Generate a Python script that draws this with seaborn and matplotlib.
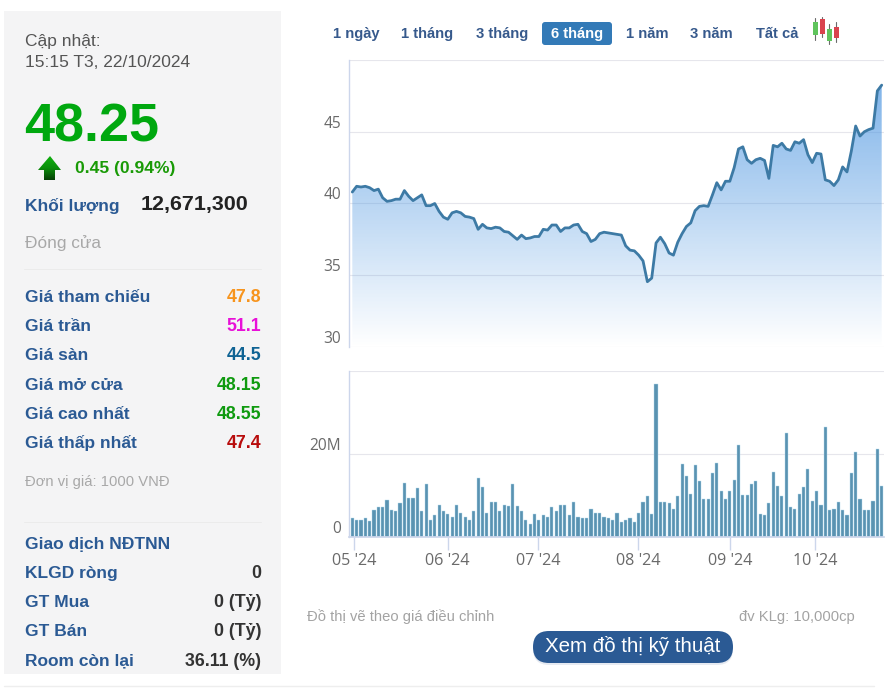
"""Stock quote panel: price area chart, volume bars and the info column."""

import matplotlib.pyplot as plt
import numpy as np
import pandas as pd
import seaborn as sns
from matplotlib.colors import LinearSegmentedColormap
from matplotlib.patches import FancyBboxPatch, Polygon, Rectangle

WIDTH, HEIGHT = 892, 691

price = [
    40.8, 41.2, 41.15, 41.2, 41.1, 40.9, 41.0, 40.4, 40.15, 40.2,
    40.3, 40.3, 40.9, 40.5, 40.2, 40.4, 40.6, 39.85, 39.85, 40.0,
    39.45, 39.05, 38.9, 39.35, 39.45, 39.35, 39.1, 39.05, 38.95, 38.2,
    38.55, 38.3, 38.25, 38.35, 38.3, 38.05, 38.0, 37.75, 37.5, 37.8,
    37.55, 37.6, 37.7, 37.7, 38.2, 38.15, 38.5, 38.5, 38.05, 38.3,
    38.3, 38.5, 38.55, 38.05, 37.9, 37.35, 37.5, 37.9, 38.0, 37.95,
    37.9, 37.85, 37.8, 37.05, 36.75, 36.7, 36.4, 36.0, 34.55, 34.8,
    37.25, 37.65, 37.2, 36.55, 36.4, 37.3, 37.9, 38.4, 38.65, 39.5,
    39.8, 39.85, 39.8, 40.6, 41.45, 40.95, 41.55, 41.55, 42.5, 43.8,
    43.95, 43.05, 42.8, 43.05, 43.15, 43.0, 41.75, 44.05, 43.95, 44.2,
    43.8, 43.7, 44.3, 44.2, 44.45, 43.4, 42.85, 43.5, 43.45, 41.65,
    41.55, 41.25, 41.65, 42.55, 42.2, 43.65, 45.4, 44.7, 45.0, 45.15,
    45.25, 47.85, 48.25,
]

volume = [
    4.6, 4.2, 4.2, 4.6, 3.9, 6.6, 7.2, 7.2, 8.9, 6.6,
    6.2, 8.2, 13.0, 9.4, 9.4, 11.8, 6.2, 12.7, 4.2, 5.3,
    7.8, 6.2, 5.6, 4.9, 7.8, 5.9, 4.9, 4.2, 6.2, 14.3,
    12.1, 5.9, 8.5, 8.5, 6.2, 7.8, 7.5, 12.7, 7.5, 6.2,
    4.2, 3.3, 5.6, 4.2, 5.3, 4.9, 7.2, 6.2, 7.8, 7.8,
    5.3, 8.5, 4.9, 4.6, 4.6, 6.9, 5.9, 5.9, 4.9, 4.6,
    4.2, 5.9, 3.6, 4.2, 4.6, 3.6, 5.9, 8.5, 9.8, 5.6,
    36.7, 8.5, 8.5, 8.2, 6.9, 9.8, 17.6, 14.6, 10.5, 17.3,
    13.4, 9.1, 9.1, 15.4, 17.9, 11.1, 9.1, 11.1, 13.7, 22.1,
    10.2, 10.2, 12.7, 13.4, 5.6, 5.3, 8.2, 15.7, 12.4, 9.8,
    25.0, 7.2, 6.9, 10.5, 12.1, 16.3, 8.8, 11.1, 7.8, 26.6,
    6.6, 6.9, 8.5, 6.6, 5.3, 15.4, 20.5, 9.1, 6.6, 6.6,
    8.8, 21.1, 12.4,
]

month_positions = [0.46, 21.99, 42.87, 65.84, 86.98, 106.7]
month_labels = ["05 '24", "06 '24", "07 '24", "08 '24", "09 '24", "10 '24"]
price_ticks = [30, 35, 40, 45, 50]
price_tick_labels = ["30", "35", "40", "45", ""]
volume_ticks = [0, 20, 40]
volume_tick_labels = ["0", "20M", ""]

range_buttons = ["1 ngày", "1 tháng", "3 tháng", "6 tháng", "1 năm", "3 năm", "Tất cả"]
price_rows = ["Giá tham chiếu", "Giá trần", "Giá sàn", "Giá mở cửa", "Giá cao nhất", "Giá thấp nhất"]
price_row_values = ["47.8", "51.1", "44.5", "48.15", "48.55", "47.4"]
price_row_colors = ["#f7941d", "#e810d8", "#0f6394", "#0f9a0f", "#0f9a0f", "#b80c0c"]
foreign_rows = ["Giao dịch NĐTNN", "KLGD ròng", "GT Mua", "GT Bán", "Room còn lại"]
foreign_values = ["", "0", "0 (Tỷ)", "0 (Tỷ)", "36.11 (%)"]

BLUE = "#2b5a94"
GRID = "#e6e6ec"
AXIS = "#ccd6eb"
TICK_TEXT = "#6a6a6a"
CHART_FONT = "Open Sans"


def px_axes(fig, left, top, right, bottom):
    """Add axes placed by pixel edges measured from the top left corner."""
    return fig.add_axes([
        left / WIDTH,
        1 - bottom / HEIGHT,
        (right - left) / WIDTH,
        (bottom - top) / HEIGHT,
    ])


def label(ax, x, y, text, size, color="#333333", weight="normal", ha="left", family="Liberation Sans"):
    """Write text at pixel position, size given in pixels."""
    ax.text(x, y, text, fontsize=size * 0.72, color=color, fontweight=weight,
            ha=ha, va="center", family=family)


def style_axes(ax, xlim):
    ax.set_xlim(*xlim)
    ax.set_facecolor("none")
    ax.grid(axis="y", color=GRID, linewidth=0.8)
    ax.grid(axis="x", visible=False)
    ax.set_axisbelow(True)
    ax.set_xlabel("")
    ax.set_ylabel("")
    for side in ("top", "right", "bottom"):
        ax.spines[side].set_visible(False)
    ax.spines["left"].set_color(AXIS)
    ax.spines["left"].set_linewidth(1)


sns.set_theme(style="white")
plt.rcParams["font.family"] = ["Liberation Sans", "DejaVu Sans"]

fig = plt.figure(figsize=(WIDTH / 100, HEIGHT / 100), dpi=100)

# page layer, pixel coordinates
page = fig.add_axes([0, 0, 1, 1])
page.set_xlim(0, WIDTH)
page.set_ylim(HEIGHT, 0)
page.axis("off")

page.add_patch(Rectangle((4, 11), 277, 663, color="#f4f4f5", linewidth=0))
page.plot([4, 874], [685.5, 685.5], color="#eeeeee", linewidth=1)
page.plot([24, 261], [268.5, 268.5], color="#ebebeb", linewidth=0.7)
page.plot([24, 261], [521.5, 521.5], color="#ebebeb", linewidth=0.7)

label(page, 25, 41, "Cập nhật:", 17.4, "#555555")
label(page, 25, 62.5, "15:15 T3, 22/10/2024", 17.4, "#555555")
label(page, 24, 127, "48.25", 54, "#00a80f", "bold")
label(page, 75, 168, "0.45 (0.94%)", 17.5, "#199a06", "bold")
label(page, 25, 205.5, "Khối lượng", 17.4, BLUE, "bold")
label(page, 141, 204, "12,671,300", 21.5, "#222222", "bold")
label(page, 25, 243.5, "Đóng cửa", 17.2, "#a8a8a8")
label(page, 25, 482, "Đơn vị giá: 1000 VNĐ", 14.7, "#a8a8a8")

# up arrow icon with a vertical gradient
arrow = Polygon([(38, 170), (50, 156), (61, 170), (55, 170), (55, 180), (44, 180), (44, 170)],
                closed=True, transform=page.transData, facecolor="none", edgecolor="none")
page.add_patch(arrow)
arrow_cmap = LinearSegmentedColormap.from_list("arrow", ["#10b010", "#0a8f0a", "#063f06"])
arrow_img = page.imshow(np.linspace(0, 1, 40)[:, None], cmap=arrow_cmap, aspect="auto",
                        extent=(38, 61, 180, 156), origin="upper", zorder=3)
arrow_img.set_clip_path(arrow)

for y, name, value, color in zip([297, 326, 355, 385, 414, 443], price_rows, price_row_values, price_row_colors):
    label(page, 25, y, name, 17.4, BLUE, "bold")
    label(page, 261, y, value, 17.8, color, "bold", ha="right")

for y, name, value in zip([544.5, 573.5, 602.5, 631.5, 661], foreign_rows, foreign_values):
    label(page, 25, y, name, 17.4, BLUE, "bold")
    label(page, 261, y, value, 17.8, "#333333", "bold", ha="right")

# range selector
page.add_patch(FancyBboxPatch((545, 25), 64, 17, boxstyle="round,pad=3,rounding_size=3",
                              facecolor="#337ab7", edgecolor="none"))
for x, name in zip([356, 427.5, 502, 577, 647, 711.5, 777], range_buttons):
    active = name == "6 tháng"
    label(page, x, 33.5, name, 14.8, "white" if active else "#36598c", "bold", ha="center")

# candlestick icon
for x, wick, body, color in [
    (815, (18, 40), (22, 35), "#5fc45c"),
    (822, (17, 37), (19, 34), "#d9434e"),
    (829, (24, 44), (29, 41), "#5fc45c"),
    (836, (22, 42), (27, 38), "#d9434e"),
]:
    page.plot([x, x], wick, color="#6b6b6b", linewidth=0.8)
    page.add_patch(Rectangle((x - 2.5, body[0]), 5, body[1] - body[0], facecolor=color, edgecolor="none", zorder=3))

label(page, 307, 617, "Đồ thị vẽ theo giá điều chỉnh", 14.8, "#a3a3a3")
label(page, 855, 617, "đv KLg: 10,000cp", 14.8, "#a3a3a3", ha="right")
page.add_patch(FancyBboxPatch((536, 636), 194, 26, boxstyle="round,pad=3,rounding_size=16",
                              facecolor="#d6dde8", edgecolor="none", alpha=0.6))
page.add_patch(FancyBboxPatch((536, 634), 194, 26, boxstyle="round,pad=3,rounding_size=16",
                              facecolor=BLUE, edgecolor="none"))
label(page, 633, 646.5, "Xem đồ thị kỹ thuật", 20.5, "white", ha="center")

page.set_xlim(0, WIDTH)
page.set_ylim(HEIGHT, 0)

# charts
sessions = np.arange(len(price))
df = pd.DataFrame({"session": sessions, "price": price, "volume": volume})

PX_PER_SESSION = (881.7 - 352.3) / (len(price) - 1)
AX_LEFT, AX_RIGHT = 349.3, 883.7
xlim = ((AX_LEFT - 352.3) / PX_PER_SESSION, len(price) - 1 + (AX_RIGHT - 881.7) / PX_PER_SESSION)

ax_price = px_axes(fig, AX_LEFT, 60, AX_RIGHT, 347)
area = ax_price.fill_between(df["session"], df["price"], 30, color="none", linewidth=0)
fill_cmap = LinearSegmentedColormap.from_list("fill", [(0.31, 0.595, 0.885, 0.0), (0.31, 0.595, 0.885, 0.72)])
gradient = ax_price.imshow(np.linspace(1, 0, 256)[:, None], cmap=fill_cmap, aspect="auto",
                           extent=(0, len(price) - 1, 30, max(price)), zorder=1.5)
gradient.set_clip_path(area.get_paths()[0], transform=ax_price.transData)
sns.lineplot(data=df, x="session", y="price", ax=ax_price, color="#3d7aa5", linewidth=2.0, zorder=3)
ax_price.set_ylim(30, 50)
ax_price.set_yticks(price_ticks, price_tick_labels)
ax_price.set_xticks([])
style_axes(ax_price, xlim)
ax_price.tick_params(axis="y", length=0, pad=6, labelsize=11.2, labelcolor=TICK_TEXT)
for tick in ax_price.get_yticklabels():
    tick.set_va("bottom")
    tick.set_family(CHART_FONT)

ax_volume = px_axes(fig, AX_LEFT, 370.7, AX_RIGHT, 537.3)
sns.barplot(data=df, x="session", y="volume", ax=ax_volume, native_scale=True, color="#5a93b1",
            saturation=1, width=0.72, edgecolor="#b4dbf0", linewidth=0.3)
ax_volume.set_ylim(0, 40)
ax_volume.set_yticks(volume_ticks, volume_tick_labels)
ax_volume.set_xticks(month_positions, month_labels)
style_axes(ax_volume, xlim)
ax_volume.spines["bottom"].set_visible(True)
ax_volume.spines["bottom"].set_color(AXIS)
ax_volume.tick_params(axis="y", length=0, pad=6, labelsize=11.2, labelcolor=TICK_TEXT)
ax_volume.tick_params(axis="x", length=9, width=1, color=AXIS, pad=2, labelsize=11.6, labelcolor=TICK_TEXT, bottom=True)
for tick in ax_volume.get_yticklabels():
    tick.set_va("bottom")
    tick.set_family(CHART_FONT)
for tick in ax_volume.get_xticklabels():
    tick.set_family(CHART_FONT)

fig.savefig("out.png", dpi=100)
